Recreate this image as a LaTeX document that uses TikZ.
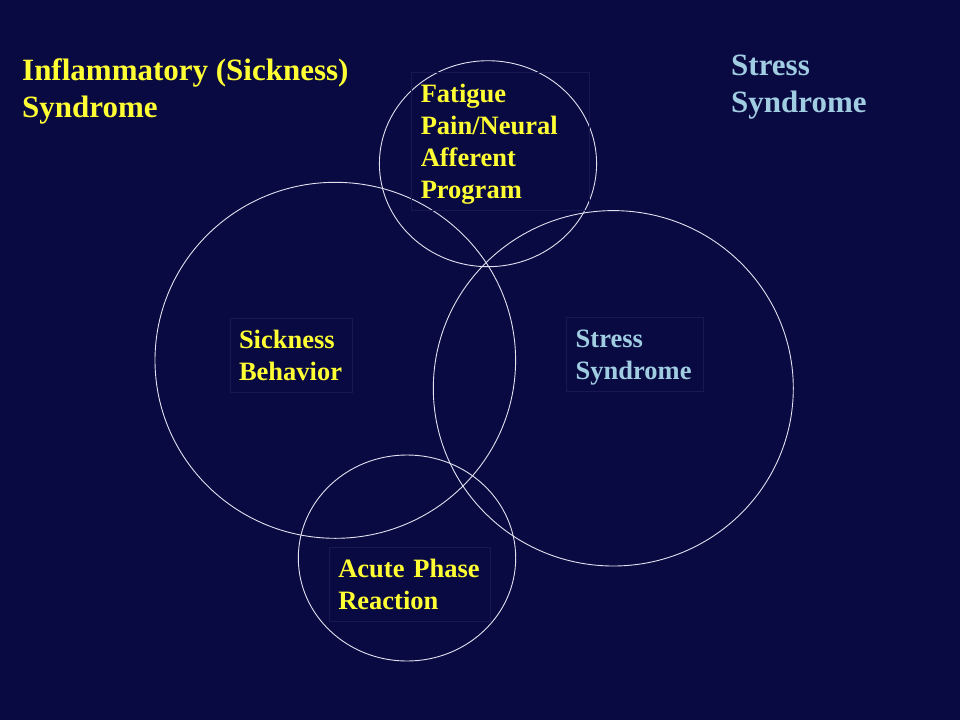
\documentclass[tikz,border=0pt]{standalone}
\usepackage{fontspec}
\setmainfont{Liberation Serif}
\definecolor{slide}{RGB}{10,10,66}
\definecolor{ringline}{RGB}{225,225,240}
\definecolor{boxline}{RGB}{24,24,82}
\definecolor{sickyellow}{RGB}{255,255,51}
\definecolor{stressblue}{RGB}{160,205,225}
\tikzstyle{ring} = [draw = ringline, line width = 0.9pt]
\tikzstyle{boxed} = [rectangle, draw = boxline, line width = 0.8pt, inner xsep = 9pt, inner ysep = 0pt, align = left, font = \fontsize{26.5}{32}\selectfont\bfseries]
\tikzstyle{heading} = [inner sep = 0pt, anchor = north west, align = left, font = \fontsize{31}{37}\selectfont\bfseries]

\begin{document}
\begin{tikzpicture}[x = 1pt, y = -1pt]
    \fill [slide] (0, 0) rectangle (960, 720);

    \draw [ring] (488, 163.7) ellipse [x radius = 108.6pt, y radius = 103pt];
    \draw [ring] (335.3, 360.3) ellipse [x radius = 180.3pt, y radius = 178pt];
    \draw [ring] (613.3, 388.3) ellipse [x radius = 180pt, y radius = 177.7pt];
    \draw [ring] (407, 558) ellipse [x radius = 108.7pt, y radius = 103pt];

    \node (inflam) at (22, 58.7) [heading, text = sickyellow] {Inflammatory (Sickness)\\Syndrome};
    \node (stresshead) at (731, 54.5) [heading, text = stressblue] {Stress\\Syndrome};

    % last lines smashed so the descenders do not lift the text
    \node (fatigue) at (500.4, 141.2) [boxed, text = sickyellow, text width = 159.3pt, minimum height = 137.7pt] {Fatigue\\Pain/Neural\\Afferent\\\smash{Program}};
    \node (sickness) at (291, 355) [boxed, text = sickyellow, text width = 104pt, minimum height = 74pt] {Sickness\\Behavior};
    \node (stress) at (635, 354.5) [boxed, text = stressblue, text width = 118.6pt, minimum height = 74.4pt] {Stress\\\smash{Syndrome}};
    \node (acute) at (410, 584.7) [boxed, text = sickyellow, text width = 143.4pt, minimum height = 74pt] {Acute Phase\\Reaction};
\end{tikzpicture}
\end{document}
